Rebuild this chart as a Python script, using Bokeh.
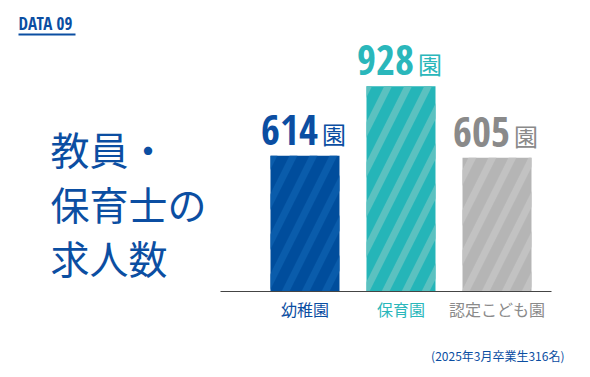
from bokeh.plotting import figure
from bokeh.models import Range1d, ColumnDataSource
from bokeh.core.properties import value
from bokeh.embed import file_html
from bokeh.resources import INLINE

# ---- data ----
categories = ["幼稚園", "保育園", "認定こども園"]
counts = [614, 928, 605]
unit = "園"
title_lines = ["教員・", "保育士の", "求人数"]
tag = "DATA 09"
note = "(2025年3月卒業生316名)"

bar_colors = ["#004d9c", "#25b5b8", "#b5b5b5"]
stripe_colors = ["#0a5cab", "#5bc1c0", "#c2c2c2"]
text_colors = ["#0b4ea2", "#2ab7bb", "#8a8a8a"]
blue = "#0b4ea2"

W, H = 590, 377
X0, DX = 304.5, 96.0      # pixel of first category, pixels per category
Y0, K = 291.0, 0.2212     # pixel of zero, pixels per unit
NUM_FONT = "Open Sans Condensed"
JP_FONT = "Noto Sans CJK JP"


def fx(px):
    return (px - X0) / DX


def fy(py):
    return (Y0 - py) / K


p = figure(width=W, height=H, output_backend="svg", toolbar_location=None,
           x_range=Range1d(fx(0), fx(W)), y_range=Range1d(fy(H), fy(0)),
           x_axis_location=None, y_axis_location=None, min_border=0,
           background_fill_color="white", border_fill_color="white")
p.outline_line_color = None
p.grid.visible = False

xs = list(range(len(categories)))
src = ColumnDataSource(dict(x=xs, cat=categories, n=[str(c) for c in counts],
                            v=counts,
                            ny=[c + 26 / K for c in counts],
                            uy=[c + 22.5 / K for c in counts],
                            u=[unit] * len(counts),
                            fill=bar_colors, hatch=stripe_colors, tc=text_colors))

p.vbar(x="x", top="v", bottom=0, width=69 / DX, source=src,
       fill_color="fill", line_color=None,
       hatch_pattern="/", hatch_color="hatch", hatch_scale=40, hatch_weight=7)

# baseline axis line
p.segment(x0=[fx(220)], y0=[0], x1=[fx(551)], y1=[0], line_color="#444444", line_width=1.2)

# value labels
p.text(x="x", y="ny", text="n", source=src, text_color="tc",
       text_font=value(NUM_FONT), text_font_style="bold",
       text_font_size="41px", text_align="right", text_baseline="middle",
       x_offset=13)
p.text(x="x", y="uy", text="u", source=src, text_color="tc",
       text_font=value(JP_FONT), text_font_size="24px",
       text_align="left", text_baseline="middle",
       x_offset=17)

# category labels
p.text(x="x", y=0, text="cat", source=src, text_color="tc",
       text_font=value(JP_FONT), text_font_style="normal",
       text_font_size="16px", text_align="center", text_baseline="middle",
       y_offset=17)

# title
p.text(x=[fx(50)] * 3, y=[fy(v) for v in (147, 202, 256)], text=title_lines,
       text_color=blue, text_font=value(JP_FONT),
       text_font_size="39px", text_align="left", text_baseline="middle")

# DATA 09 tag
p.text(x=[fx(18)], y=[fy(23)], text=[tag], text_color=blue,
       text_font=value(NUM_FONT), text_font_style="bold",
       text_font_size="17px", text_align="left", text_baseline="middle")
p.segment(x0=[fx(18)], y0=[fy(34)], x1=[fx(75)], y1=[fy(34)], line_color=blue, line_width=2)

# footnote
p.text(x=[fx(564)], y=[fy(355)], text=[note], text_color=blue,
       text_font=value(JP_FONT), text_font_size="12px",
       text_align="right", text_baseline="middle")

open("out.html", "w").write(file_html(p, INLINE))
